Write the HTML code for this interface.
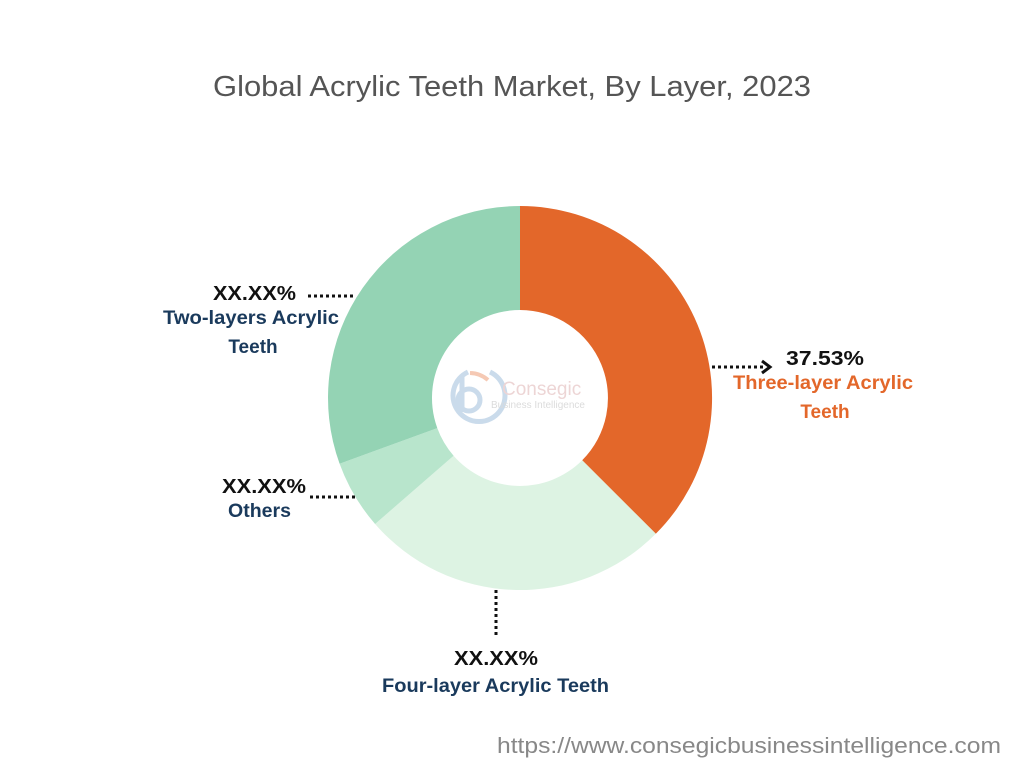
<!DOCTYPE html>
<html><head><meta charset="utf-8"><style>
body{margin:0;width:1024px;height:768px;background:#fff;overflow:hidden;font-family:"Liberation Sans",sans-serif;}
</style></head><body>
<svg width="1024" height="768" viewBox="0 0 1024 768" xmlns="http://www.w3.org/2000/svg" font-family="Liberation Sans, sans-serif">
<text x="213" y="96" font-size="29" fill="#555" textLength="598" lengthAdjust="spacingAndGlyphs">Global Acrylic Teeth Market, By Layer, 2023</text>
<path d="M520 206 A192 192 0 0 1 655.8 533.8 L582.2 460.2 A88 88 0 0 0 520 310 Z" fill="#E3672A"/>
<path d="M655.8 533.8 A192 192 0 0 1 375.1 524 L453.6 455.7 A88 88 0 0 0 582.2 460.2 Z" fill="#DDF3E3"/>
<path d="M375.1 524 A192 192 0 0 1 339.6 463.7 L437.3 428.1 A88 88 0 0 0 453.6 455.7 Z" fill="#B8E5CC"/>
<path d="M339.6 463.7 A192 192 0 0 1 520 206 L520 310 A88 88 0 0 0 437.3 428.1 Z" fill="#94D3B4"/>
<g opacity="0.35">
<path d="M468 372 A26 26 0 1 0 490 372" fill="none" stroke="#6b9bc8" stroke-width="5"/>
<path d="M462 376 L462 412" stroke="#6b9bc8" stroke-width="5"/>
<circle cx="469" cy="400" r="11" fill="none" stroke="#6b9bc8" stroke-width="5"/>
<path d="M470 373 A28 28 0 0 1 488 380" fill="none" stroke="#E3672A" stroke-width="4"/>
<text x="502" y="395" font-size="19" fill="#c88">Consegic</text>
<text x="491" y="408" font-size="10" fill="#999">Business Intelligence</text>
</g>
<g stroke="#111" stroke-width="3" stroke-dasharray="3 3">
<line x1="308" y1="296" x2="356" y2="296"/>
<line x1="310" y1="497" x2="356" y2="497"/>
<line x1="496" y1="590" x2="496" y2="637"/>
<line x1="712" y1="367" x2="766" y2="367"/>
</g>
<path d="M762 361 L770 367 L762 373" fill="none" stroke="#111" stroke-width="3"/>
<g font-weight="bold" font-size="20" lengthAdjust="spacingAndGlyphs">
<text x="213" y="300" fill="#111" textLength="83" lengthAdjust="spacingAndGlyphs">XX.XX%</text>
<text x="163" y="324" fill="#1a3a5c" font-size="19" textLength="176" lengthAdjust="spacingAndGlyphs">Two-layers Acrylic</text>
<text x="253" y="353" text-anchor="middle" fill="#1a3a5c" font-size="19">Teeth</text>
<text x="222" y="493" fill="#111" textLength="84" lengthAdjust="spacingAndGlyphs">XX.XX%</text>
<text x="228" y="517" fill="#1a3a5c" font-size="19" textLength="63" lengthAdjust="spacingAndGlyphs">Others</text>
<text x="454" y="665" fill="#111" textLength="84" lengthAdjust="spacingAndGlyphs">XX.XX%</text>
<text x="382" y="692" fill="#1a3a5c" font-size="19" textLength="227" lengthAdjust="spacingAndGlyphs">Four-layer Acrylic Teeth</text>
<text x="786" y="365" fill="#111" textLength="78" lengthAdjust="spacingAndGlyphs">37.53%</text>
<text x="733" y="389" fill="#E3672A" font-size="19" textLength="180" lengthAdjust="spacingAndGlyphs">Three-layer Acrylic</text>
<text x="825" y="418" text-anchor="middle" fill="#E3672A" font-size="19">Teeth</text>
</g>
<text x="497" y="753" font-size="22" fill="#888" textLength="504" lengthAdjust="spacingAndGlyphs">https://www.consegicbusinessintelligence.com</text>
</svg>
</body></html>
